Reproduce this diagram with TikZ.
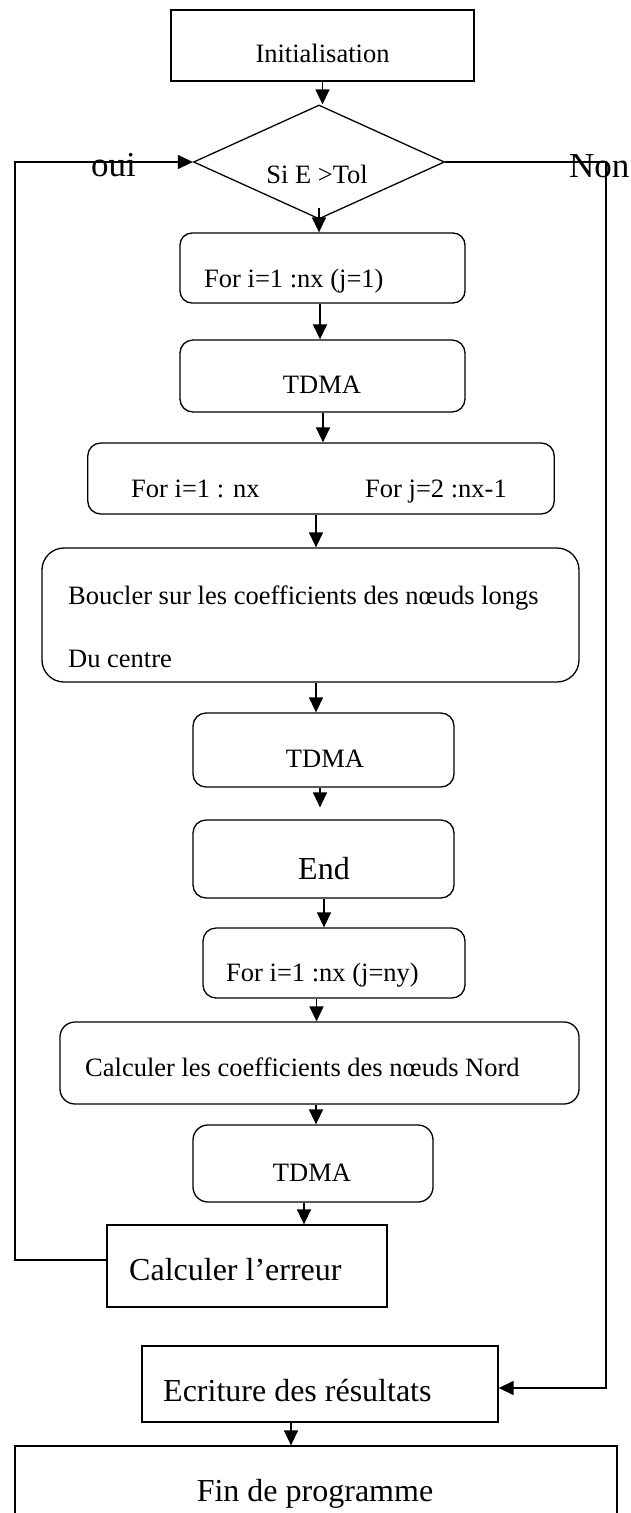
\documentclass[tikz,border=0pt]{standalone}
\usepackage{fontspec}
\setmainfont{Liberation Serif}
\usetikzlibrary{arrows.meta,shapes.geometric}
\begin{document}
\begin{tikzpicture}[x=1pt,y=-1pt,
  box/.style={draw, line width=1.3pt, inner sep=0pt, rectangle},
  rbox/.style={box, rounded corners=13pt},
  conn/.style={line width=1.4pt, -{Triangle[length=15pt,width=14pt]}},
  txt/.style={inner sep=0pt, anchor=base, font=\fontsize{26.5}{30}\selectfont},
  txtl/.style={txt, anchor=base west},
  big/.style={inner sep=0pt, anchor=base, font=\fontsize{32}{36}\selectfont},
  bigl/.style={big, anchor=base west},
  huge/.style={inner sep=0pt, anchor=base west, font=\fontsize{35}{40}\selectfont},
]
\useasboundingbox (0,0) rectangle (630,1513);
\clip (0,0) rectangle (630,1513);

% boxes
\node[box, minimum width=303pt, minimum height=71pt] (init) at (322.5,45.5) {};
\node[txt] (tinit) at (322.5,62) {Initialisation};

\node[draw, diamond, line width=1.3pt, inner sep=0pt, minimum width=251pt, minimum height=114pt] (dec) at (319,162) {};
\node[txt] (tdec) at (317,183) {Si E >Tol};

\node[rbox, rounded corners=12pt, minimum width=285pt, minimum height=70pt] (b1) at (322.5,268) {};
\node[txtl] (t1) at (204,287) {For i=1 :nx (j=1)};

\node[rbox, minimum width=285pt, minimum height=72pt] (b2) at (322.5,376) {};
\node[txt] (t2) at (322,393) {TDMA};

\node[rbox, minimum width=466.5pt, minimum height=71pt] (b3) at (321,478.5) {};
\node[txtl] (t3a) at (131,497) {For i=1 : nx};
\node[txtl] (t3b) at (365,497) {For j=2 :nx-1};

\node[rbox, rounded corners=22pt, minimum width=537pt, minimum height=134pt] (b4) at (310.5,615) {};
\node[txtl] (t4a) at (68,604) {Boucler sur les coefficients des nœuds longs};
\node[txtl] (t4b) at (68,667) {Du centre};

\node[rbox, minimum width=261pt, minimum height=74pt] (b5) at (323.5,750) {};
\node[txt] (t5) at (325,767) {TDMA};

\node[rbox, minimum width=261pt, minimum height=78pt] (b6) at (323.5,859) {};
\node[big] (t6) at (324,879) {End};

\node[rbox, minimum width=262pt, minimum height=70pt] (b7) at (334,963) {};
\node[txtl] (t7) at (226,981) {For i=1 :nx (j=ny)};

\node[rbox, rounded corners=15pt, minimum width=519pt, minimum height=82pt] (b8) at (319.5,1063) {};
\node[txtl] (t8) at (85,1076) {Calculer les coefficients des nœuds Nord};

\node[rbox, rounded corners=15pt, minimum width=240pt, minimum height=77pt] (b9) at (313,1163.5) {};
\node[txt] (t9) at (312,1181) {TDMA};

\node[box, minimum width=280pt, minimum height=82pt] (b10) at (247,1266) {};
\node[bigl] (t10) at (129,1280) {Calculer l’erreur};

\node[box, minimum width=356pt, minimum height=76pt] (b11) at (320,1384) {};
\node[bigl] (t11) at (163,1401) {Ecriture des résultats};

\node[box, minimum width=602pt, minimum height=128pt] (b12) at (316,1510) {};
\node[big] (t12) at (315,1501) {Fin de programme};

% labels
\node[huge] (oui) at (91,176) {oui};
\node[huge] (non) at (569,177) {Non};

% connectors
\coordinate (lx) at (15,0);
\coordinate (rx) at (606,0);
\draw[conn] (init.south) -- (init.south |- dec.north);
\draw[conn] ([yshift=12pt]dec.south) -- (dec.south |- b1.north);
\draw[conn] ([xshift=-2.5pt]b1.south) -- ([xshift=-2.5pt]b1.south |- b2.north);
\draw[conn] ([xshift=0.5pt]b2.south) -- ([xshift=0.5pt]b2.south |- b3.north);
\draw[conn] ([xshift=-5pt]b3.south) -- ([xshift=-5pt]b3.south |- b4.north);
\draw[conn] ([xshift=5.5pt]b4.south) -- ([xshift=5.5pt]b4.south |- b5.north);
\draw[conn, shorten >=12pt] ([xshift=-3.5pt]b5.south) -- ([xshift=-3.5pt]b5.south |- b6.north);
\draw[conn] ([xshift=0.5pt]b6.south) -- ([xshift=0.5pt]b6.south |- b7.north);
\draw[conn] ([xshift=-17.5pt]b7.south) -- ([xshift=-17.5pt]b7.south |- b8.north);
\draw[conn] ([xshift=-3.5pt]b8.south) -- ([xshift=-3.5pt]b8.south |- b9.north);
\draw[conn] ([xshift=-9pt]b9.south) -- ([xshift=-9pt]b9.south |- b10.north);
\draw[conn] ([xshift=-29pt]b11.south) -- ([xshift=-29pt]b11.south |- b12.north);

\draw[conn] ([yshift=6pt]b10.west) -| (dec.west -| lx) -- (dec.west);
\draw[conn] (dec.east) -- (dec.east -| rx) |- ([yshift=-4pt]b11.east);
\end{tikzpicture}
\end{document}
